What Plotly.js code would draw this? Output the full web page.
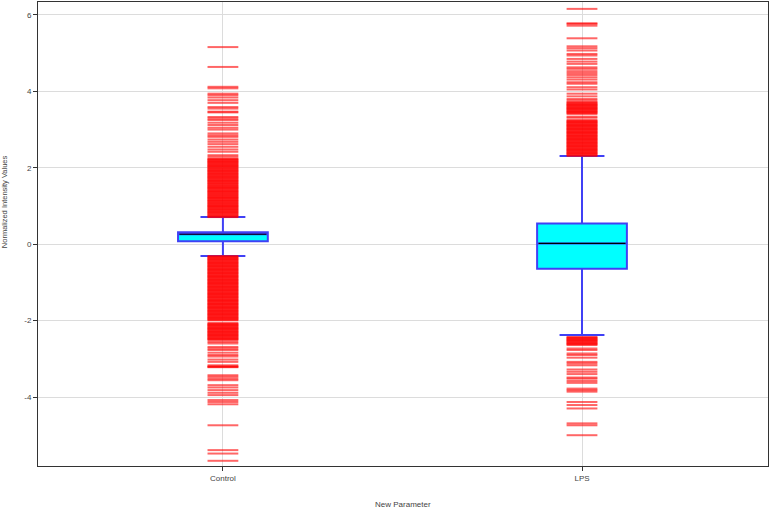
<!DOCTYPE html>
<html>
<head>
<meta charset="utf-8">
<script src="https://cdn.plot.ly/plotly-3.0.1.min.js"></script>
<style>html,body{margin:0;padding:0;background:#fff;}#chart{width:770px;height:509px;}</style>
</head>
<body>
<div id="chart"></div>
<script>
// ---- data ----
const categories = ["Control", "LPS"];
const lowerFence = [-0.31, -2.38];
const q1 = [0.08, -0.64];
const median = [0.26, 0.02];
const q3 = [0.31, 0.54];
const upperFence = [0.71, 2.31];

const controlOutliers = [
  5.16, 4.64, 4.12, 4.08, 3.94, 3.90, 3.84, 3.77, 3.70, 3.59, 3.55, 3.47, 3.45, 3.33, 3.29, 3.25,
  3.18, 3.12, 3.05, 3.00, 2.90, 2.85, 2.81, 2.74, 2.68, 2.62, 2.55, 2.48, 2.42, 2.33, 2.29,
  2.24, 2.225, 2.21, 2.19, 2.17, 2.155, 2.14, 2.12, 2.1, 2.08, 2.06, 2.045, 2.03, 2.01, 1.99, 1.97,
  1.95, 1.93, 1.915, 1.9, 1.875, 1.86, 1.84, 1.82, 1.805, 1.78, 1.765, 1.75, 1.73, 1.71, 1.69, 1.67,
  1.655, 1.64, 1.615, 1.6, 1.58, 1.56, 1.54, 1.525, 1.5, 1.485, 1.47, 1.45, 1.43, 1.41, 1.39, 1.375,
  1.36, 1.335, 1.32, 1.3, 1.28, 1.265, 1.24, 1.225, 1.21, 1.19, 1.17, 1.15, 1.135, 1.12, 1.095, 1.08,
  1.06, 1.04, 1.025, 1.0, 0.99, 0.97, 0.955, 0.93, 0.915, 0.9, 0.875, 0.86, 0.84, 0.82, 0.805, 0.78,
  0.76, 0.745, 0.72, 0.71,
  -0.31, -0.325, -0.34, -0.36, -0.38, -0.395, -0.41, -0.43, -0.45, -0.47, -0.485, -0.5, -0.52, -0.54,
  -0.56, -0.575, -0.59, -0.61, -0.63, -0.65, -0.665, -0.68, -0.7, -0.72, -0.74, -0.755, -0.77, -0.79,
  -0.81, -0.83, -0.845, -0.86, -0.88, -0.9, -0.92, -0.935, -0.95, -0.97, -0.99, -1.01, -1.025, -1.04,
  -1.06, -1.08, -1.1, -1.115, -1.13, -1.15, -1.17, -1.19, -1.205, -1.22, -1.24, -1.26, -1.28, -1.295,
  -1.31, -1.33, -1.35, -1.37, -1.385, -1.4, -1.42, -1.44, -1.46, -1.475, -1.49, -1.51, -1.53, -1.55,
  -1.565, -1.58, -1.6, -1.62, -1.64, -1.655, -1.67, -1.69, -1.71, -1.73, -1.745, -1.76, -1.78, -1.8,
  -1.82, -1.835, -1.85, -1.87, -1.89, -1.91, -1.925, -1.94, -1.96, -1.98, -1.995, -2.065, -2.08, -2.1,
  -2.115, -2.13, -2.15, -2.17, -2.19, -2.205, -2.22, -2.24, -2.26, -2.28, -2.295, -2.31, -2.33, -2.35,
  -2.37, -2.385, -2.4, -2.42, -2.44, -2.46, -2.475, -2.49, -2.51,
  -2.56, -2.60, -2.69, -2.73, -2.77, -2.84, -2.90, -2.94, -3.02, -3.08, -3.17, -3.20, -3.21, -3.22,
  -3.43, -3.47, -3.52, -3.56, -3.69, -3.75, -3.82, -3.89, -3.95, -4.08, -4.13, -4.19, -4.74,
  -5.39, -5.48, -5.67
];

const lpsOutliers = [
  6.16, 5.78, 5.77, 5.72, 5.39, 5.18, 5.13, 5.07, 4.98, 4.94, 4.85, 4.78, 4.72, 4.63, 4.59, 4.53,
  4.48, 4.43, 4.37, 4.31, 4.24, 4.20, 4.11, 4.05, 3.94, 3.87, 3.80, 3.76,
  3.72, 3.7, 3.68, 3.66, 3.645, 3.63, 3.61, 3.59, 3.57, 3.555, 3.54, 3.52, 3.5, 3.48, 3.465, 3.45,
  3.43, 3.41, 3.34, 3.31, 3.25, 3.23, 3.21, 3.195, 3.18, 3.16, 3.14, 3.12, 3.105, 3.09, 3.07, 3.05,
  3.03, 3.015, 3.0, 2.98, 2.96, 2.94, 2.925, 2.91, 2.89, 2.87, 2.85, 2.835, 2.82, 2.8, 2.78, 2.76,
  2.745, 2.73, 2.71, 2.69, 2.67, 2.655, 2.64, 2.62, 2.6, 2.58, 2.565, 2.55, 2.53, 2.51, 2.49, 2.475,
  2.46, 2.44, 2.42, 2.4, 2.385, 2.37, 2.35, 2.33, 2.31,
  -2.43, -2.445, -2.46, -2.48, -2.5, -2.515, -2.53, -2.55, -2.57, -2.59, -2.605, -2.62, -2.64,
  -2.73, -2.77, -2.86, -2.90, -2.97, -3.08, -3.12, -3.17, -3.28, -3.34, -3.40, -3.49, -3.52, -3.58,
  -3.63, -3.78, -3.82, -3.86, -4.13, -4.21, -4.30, -4.69, -4.74, -5.00
];

const yTickValues = [-4, -2, 0, 2, 4, 6];
const yTickLabels = ["-4", "-2", "0", "2", "4", "6"];

// ---- styles ----
const BOX_WIDTH = 0.25;
const FONT = "Liberation Sans, Arial, sans-serif";
const TEXT_COLOR = "#444";

const positions = categories.map((c, i) => i);
const outlierGroups = [controlOutliers, lpsOutliers];
const outX = [], outY = [];
outlierGroups.forEach((arr, i) => arr.forEach(v => { outX.push(positions[i]); outY.push(v); }));

const outlierTrace = {
  type: "scatter", mode: "markers", x: outX, y: outY, hoverinfo: "y",
  marker: { symbol: "line-ew", size: 22, color: "rgba(255,0,0,0.6)",
            line: { color: "rgba(255,0,0,0.6)", width: 2 } },
  showlegend: false
};

const boxTrace = {
  type: "box", x: positions, q1: q1, median: median, q3: q3,
  lowerfence: lowerFence, upperfence: upperFence,
  width: BOX_WIDTH, whiskerwidth: 0.5, boxpoints: false,
  fillcolor: "#00ffff", line: { color: "rgb(64,64,245)", width: 2 },
  showlegend: false
};

const medX = [], medY = [];
positions.forEach((p, i) => { medX.push(p - BOX_WIDTH / 2 + 0.004, p + BOX_WIDTH / 2 - 0.004, null); medY.push(median[i], median[i], null); });
const medianTrace = {
  type: "scatter", mode: "lines", x: medX, y: medY,
  line: { color: "#000", width: 1.2 }, hoverinfo: "skip", showlegend: false
};

const layout = {
  width: 770, height: 509,
  margin: { l: 38, r: 2, t: 2, b: 43 },
  paper_bgcolor: "#fff", plot_bgcolor: "#fff",
  font: { family: FONT, size: 8, color: TEXT_COLOR },
  showlegend: false,
  xaxis: {
    range: [-0.515, 1.518], tickvals: positions, ticktext: categories,
    showgrid: true, gridcolor: "#dcdcdc", gridwidth: 1, zeroline: false,
    showline: true, mirror: true, linecolor: "#333", linewidth: 1,
    ticks: "outside", ticklen: 4, tickcolor: "#333",
    tickfont: { family: FONT, size: 8, color: TEXT_COLOR }
  },
  yaxis: {
    range: [-5.806, 6.34], tickvals: yTickValues, ticktext: yTickLabels,
    showgrid: true, gridcolor: "#dcdcdc", gridwidth: 1, zeroline: false,
    showline: true, mirror: true, linecolor: "#333", linewidth: 1,
    ticks: "outside", ticklen: 4, tickcolor: "#333",
    tickfont: { family: FONT, size: 8, color: TEXT_COLOR }
  },
  annotations: [
    { text: "New Parameter", xref: "paper", yref: "paper", x: 0.5, y: -0.082,
      xanchor: "center", yanchor: "middle", showarrow: false,
      font: { family: FONT, size: 8, color: TEXT_COLOR } },
    { text: "Normalized Intensity Values", xref: "paper", yref: "paper", x: -0.045, y: 0.569,
      xanchor: "center", yanchor: "middle", textangle: -90, showarrow: false,
      font: { family: FONT, size: 7.5, color: TEXT_COLOR } }
  ]
};

Plotly.newPlot("chart", [outlierTrace, boxTrace, medianTrace], layout, { displayModeBar: false, staticPlot: true });
</script>
</body>
</html>
